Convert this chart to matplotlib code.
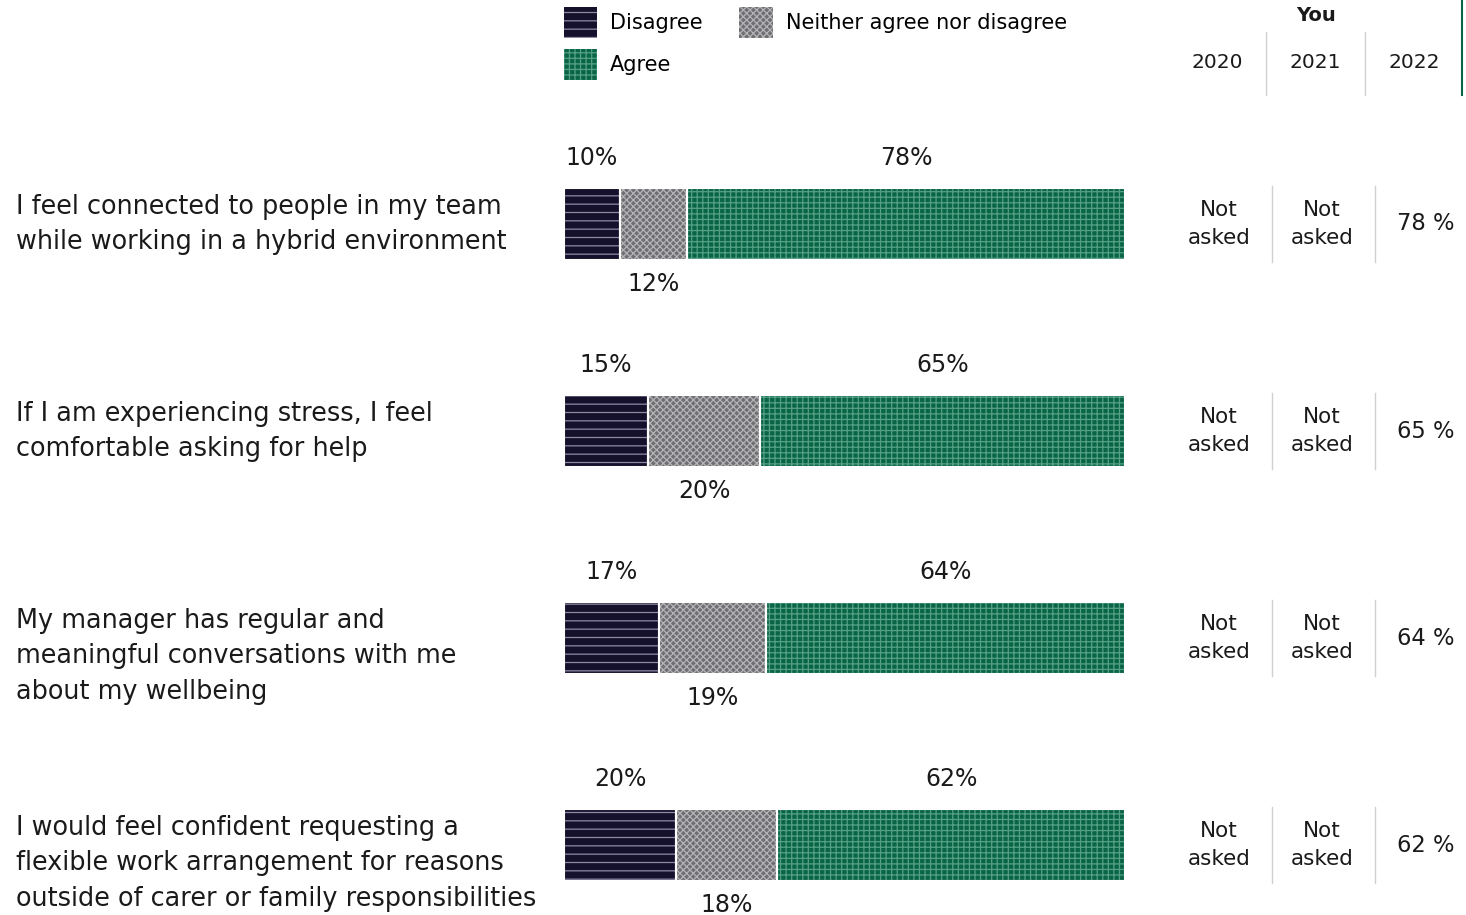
import matplotlib.pyplot as plt
import matplotlib.transforms as mtransforms
import numpy as np

W, H = 1466, 915

# data
questions = [
    'I feel connected to people in my team\nwhile working in a hybrid environment',
    'If I am experiencing stress, I feel\ncomfortable asking for help',
    'My manager has regular and\nmeaningful conversations with me\nabout my wellbeing',
    'I would feel confident requesting a\nflexible work arrangement for reasons\noutside of carer or family responsibilities',
]
disagree = [10, 15, 17, 20]
neither = [12, 20, 19, 18]
agree = [78, 65, 64, 62]
years = ['2020', '2021', '2022']
hist_2020 = ['Not\nasked'] * 4
hist_2021 = ['Not\nasked'] * 4

c_dis, c_dis_h = '#15112c', '#8d8aa3'
c_neu, c_neu_h = '#6f6f72', '#b4b4b8'
c_agr, c_agr_h = '#0a6547', '#55a084'

plt.rcParams['font.family'] = ['DejaVu Sans']
plt.rcParams['hatch.linewidth'] = 0.9

fig = plt.figure(figsize=(W / 100, H / 100), dpi=100)
ax = fig.add_axes([564 / W, 0, 561 / W, 1])
ax.set_xlim(0, 100)
ax.set_ylim(3.338, -1.082)
ax.axis('off')

y = np.arange(len(questions))
d = np.array(disagree)
n = np.array(neither)
a = np.array(agree)
bh = 0.348

b1 = ax.barh(y, d, height=bh, color=c_dis, edgecolor=c_dis_h, hatch='--', lw=0, label='Disagree')
b2 = ax.barh(y, n, left=d, height=bh, color=c_neu, edgecolor=c_neu_h, hatch='xxxxx', lw=0,
             label='Neither agree nor disagree')
b3 = ax.barh(y, a, left=d + n, height=bh, color=c_agr, edgecolor=c_agr_h, hatch='+++', lw=0, label='Agree')
# white gaps between segments
for left, width in [(0, d), (d, n), (d + n, a)]:
    ax.barh(y, width, left=left, height=bh, fill=False, edgecolor='white', lw=1.5)

for i in range(len(y)):
    ax.text(d[i] / 2, y[i] - 0.319, f'{d[i]}%', ha='center', va='center', fontsize=17, color='#1a1a1a')
    ax.text(d[i] + n[i] / 2, y[i] + 0.288, f'{n[i]}%', ha='center', va='center', fontsize=17, color='#1a1a1a')
    ax.text(d[i] + n[i] + a[i] / 2, y[i] - 0.319, f'{a[i]}%', ha='center', va='center', fontsize=17,
            color='#1a1a1a')

tr = mtransforms.blended_transform_factory(fig.transFigure, ax.transData)

# question labels
for i, q in enumerate(questions):
    ax.text(16 / W, y[i] - 0.145, q, transform=tr, ha='left', va='top', fontsize=18.4,
            linespacing=1.47, color='#1a1a1a')

# right hand table
col_x = [1219 / W, 1322 / W, 1426 / W]
for i in range(len(y)):
    ax.text(col_x[0], y[i], hist_2020[i], transform=tr, ha='center', va='center', fontsize=15.5,
            linespacing=1.45, color='#1a1a1a')
    ax.text(col_x[1], y[i], hist_2021[i], transform=tr, ha='center', va='center', fontsize=15.5,
            linespacing=1.45, color='#1a1a1a')
    ax.text(col_x[2], y[i], f'{a[i]} %', transform=tr, ha='center', va='center', fontsize=16.3,
            color='#1a1a1a')
    for sx in [1272 / W, 1375 / W]:
        ax.plot([sx, sx], [y[i] - 0.185, y[i] + 0.185], transform=tr, color='#d0d0d0', lw=1,
                clip_on=False)

hx = [1217 / W, 1315 / W, 1414 / W]
for x, yr in zip(hx, years):
    ax.text(x, -0.778, yr, transform=tr, ha='center', va='center', fontsize=14.5, color='#1a1a1a')
ax.text(1316 / W, -1.005, 'You', transform=tr, ha='center', va='center', fontsize=14,
        fontweight='bold', color='#1a1a1a')
for sx in [1266 / W, 1365 / W]:
    ax.plot([sx, sx], [-0.928, -0.623], transform=tr, color='#d0d0d0', lw=1, clip_on=False)
ax.plot([1462 / W, 1462 / W], [-1.082, -0.623], transform=tr, color=c_agr, lw=1.5, clip_on=False)

fig.legend([b1, b3, b2], ['Disagree', 'Agree', 'Neither agree nor disagree'],
           loc='upper left', bbox_to_anchor=(564 / W, 1 - 7 / H), ncol=2, frameon=False,
           fontsize=15, handlelength=1.6, handleheight=1.9, handletextpad=0.62,
           columnspacing=1.75, borderpad=0, borderaxespad=0, labelspacing=0.55)

fig.savefig('out.png', dpi=100)
